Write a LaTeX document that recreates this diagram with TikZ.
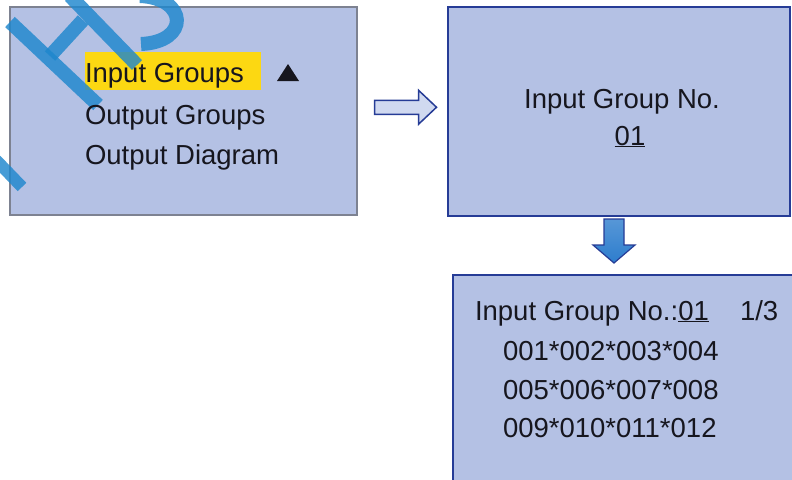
\documentclass[tikz,border=0pt]{standalone}
\usepackage{fontspec}
\setmainfont{Liberation Sans}
\usetikzlibrary{calc}

\definecolor{panelfill}{RGB}{180,193,228}
\definecolor{panelgray}{RGB}{125,130,145}
\definecolor{paneledge}{RGB}{38,60,150}
\definecolor{ink}{RGB}{22,22,30}
\definecolor{hilite}{RGB}{252,216,18}
\definecolor{mark}{RGB}{30,135,205}
\definecolor{arrowfill}{RGB}{208,217,240}
\definecolor{arrowblue}{RGB}{45,125,205}

\begin{document}
\begin{tikzpicture}[x=1pt,y=-1pt,
  panel/.style={fill=panelfill, inner sep=0pt, outer sep=0pt, anchor=north west},
  txt/.style={font=\fontsize{27.5}{33}\selectfont, text=ink, inner sep=0pt, outer sep=0pt},
  stamp/.style={draw=mark, line width=14pt, opacity=0.82, line cap=butt}]

\useasboundingbox (0,0) rectangle (792,479);
\fill[white] (0,0) rectangle (792,479);

% ---- menu panel ----
\node[panel, draw=panelgray, line width=1.4pt, minimum width=347pt, minimum height=208pt] (menu) at (10,7) {};
\fill[hilite] (85,52) rectangle (261,90);

% logo stamp across the menu panel
\draw[stamp] (10,22) -- (98,105);
\draw[stamp] (70,-4) -- (137,65);
\draw[stamp] (50,56) -- (83,20);
\draw[stamp] (140,-4) .. controls (188,-2) and (190,42) .. (141,44);
\draw[stamp, line width=12pt] (-4,160) -- (22,187);

\node[txt, anchor=base west] (m1) at (85,82) {Input Groups};
\node[txt, anchor=base west] (m2) at (85,124) {Output Groups};
\node[txt, anchor=base west] (m3) at (85,164) {Output Diagram};
\fill[ink] (277,81) -- (299,81) -- (288,64) -- cycle;

% ---- group number panel ----
\node[panel, draw=paneledge, line width=2pt, minimum width=342pt, minimum height=209pt] (grp) at (448,7) {};
\node[txt, anchor=base] (g1) at (622,108) {Input Group No.};
\node[txt, anchor=base] (g2) at (630,145) {\underline{01}};

% ---- group list panel ----
\node[panel, draw=paneledge, line width=2pt, minimum width=360pt, minimum height=230pt] (list) at (453,275) {};
\node[txt, anchor=base west] (l1) at (475,320) {Input Group No.:\underline{01}};
\node[txt, anchor=base west] (l1b) at (740,320) {1/3};
\node[txt, anchor=base west] (l2) at (503,360) {001*002*003*004};
\node[txt, anchor=base west] (l3) at (503,399) {005*006*007*008};
\node[txt, anchor=base west] (l4) at (503,437) {009*010*011*012};

% ---- hollow arrow: menu -> group number ----
\coordinate (ra) at ($(menu.east)!0.5!(grp.west)+(3,-4)$);
\draw[draw=paneledge, fill=arrowfill, line width=1.5pt, line join=miter]
  ($(ra)+(-31,-7)$) -- ($(ra)+(13,-7)$) -- ($(ra)+(13,-17)$) -- ($(ra)+(31,0)$)
  -- ($(ra)+(13,17)$) -- ($(ra)+(13,7)$) -- ($(ra)+(-31,7)$) -- cycle;

% ---- solid arrow: group number -> group list ----
\coordinate (da) at ($(grp.south)+(-5,0)$);
\draw[draw=paneledge, top color=arrowblue!80!white, bottom color=arrowblue, line width=1.2pt, line join=miter]
  ($(da)+(-10,3)$) -- ($(da)+(10,3)$) -- ($(da)+(10,29)$) -- ($(da)+(21,29)$)
  -- ($(da)+(0,47)$) -- ($(da)+(-21,29)$) -- ($(da)+(-10,29)$) -- cycle;

\end{tikzpicture}
\end{document}
